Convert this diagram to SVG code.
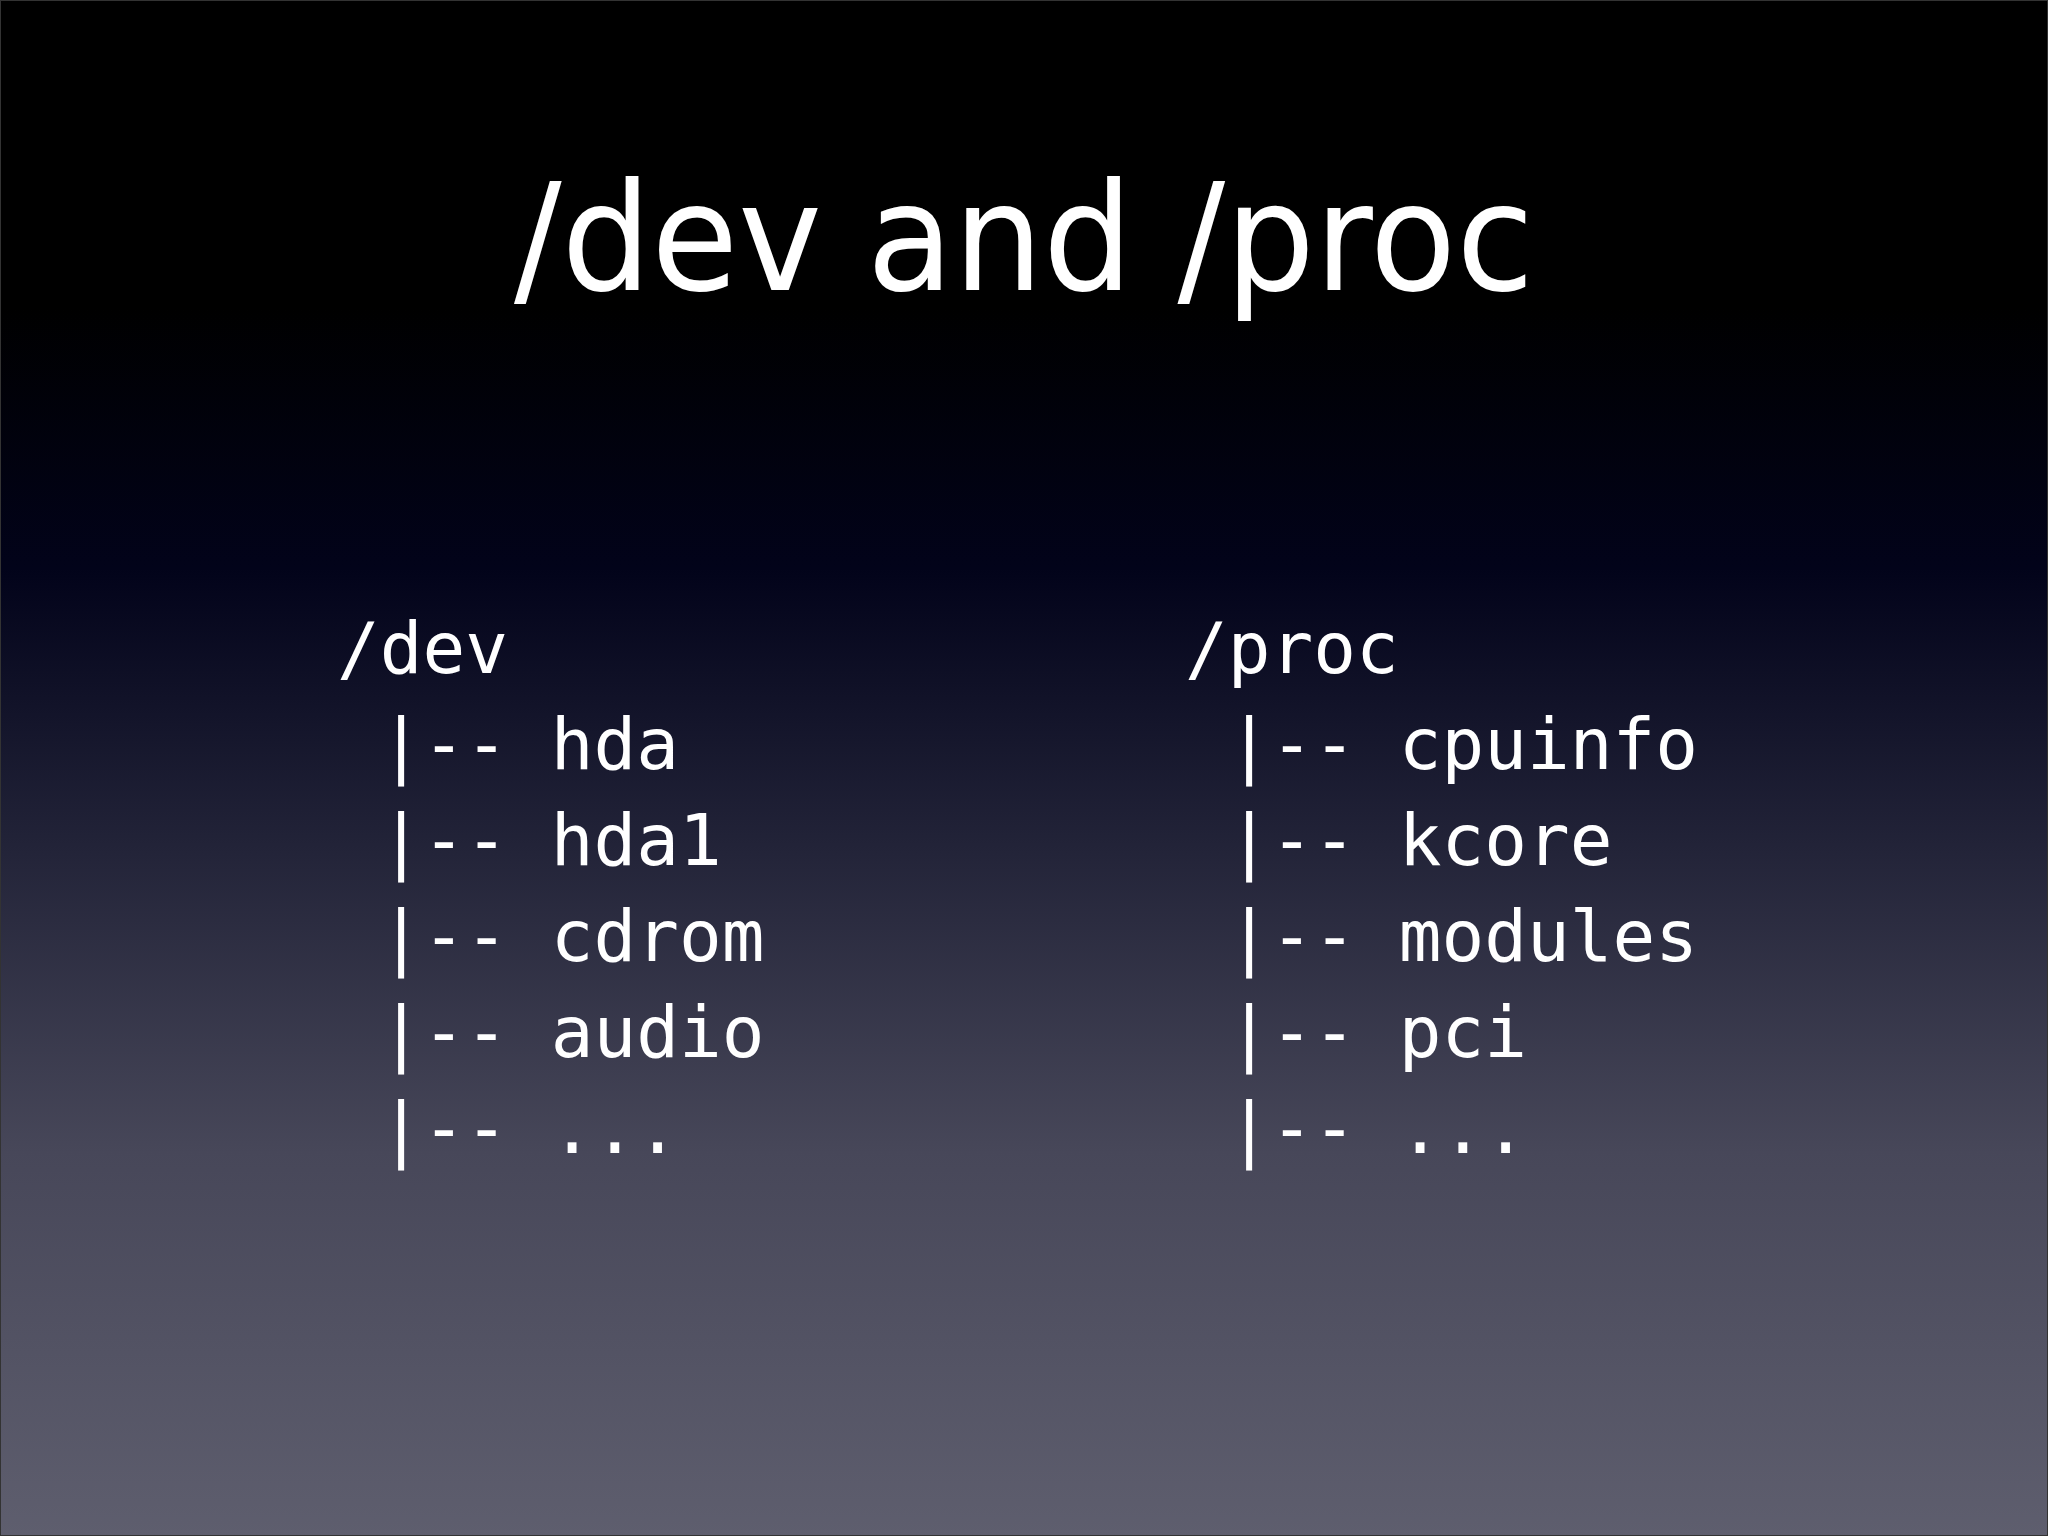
<svg xmlns="http://www.w3.org/2000/svg" width="2048" height="1536" viewBox="0 0 2048 1536">
<defs>
<linearGradient id="bg" x1="0" y1="0" x2="0" y2="1">
<stop offset="0" stop-color="#000000"/>
<stop offset="0.2" stop-color="#000000"/>
<stop offset="0.37" stop-color="#02031a"/>
<stop offset="0.55" stop-color="#222338"/>
<stop offset="0.75" stop-color="#474759"/>
<stop offset="1" stop-color="#5e5e6e"/>
</linearGradient>
<style>
.t{font-family:"DejaVu Sans","Open Sans",sans-serif;fill:#fff;font-size:150px;}
.m{font-family:"DejaVu Sans Mono","Liberation Mono",monospace;fill:#fff;font-size:71px;white-space:pre;}
</style>
</defs>
<rect width="2048" height="1536" fill="url(#bg)" stroke="#333" stroke-width="2"/>
<text class="t" x="1024" y="290" text-anchor="middle" textLength="1020" lengthAdjust="spacingAndGlyphs">/dev and /proc</text>
<g id="dev">
<text class="m" x="337" y="673" xml:space="preserve">/dev</text>
<text class="m" x="337" y="769" xml:space="preserve"> |-- hda</text>
<text class="m" x="337" y="865" xml:space="preserve"> |-- hda1</text>
<text class="m" x="337" y="961" xml:space="preserve"> |-- cdrom</text>
<text class="m" x="337" y="1057" xml:space="preserve"> |-- audio</text>
<text class="m" x="337" y="1153" xml:space="preserve"> |-- ...</text>
</g>
<g id="proc">
<text class="m" x="1185" y="673" xml:space="preserve">/proc</text>
<text class="m" x="1185" y="769" xml:space="preserve"> |-- cpuinfo</text>
<text class="m" x="1185" y="865" xml:space="preserve"> |-- kcore</text>
<text class="m" x="1185" y="961" xml:space="preserve"> |-- modules</text>
<text class="m" x="1185" y="1057" xml:space="preserve"> |-- pci</text>
<text class="m" x="1185" y="1153" xml:space="preserve"> |-- ...</text>
</g>
<g id="connectors"/>
</svg>
